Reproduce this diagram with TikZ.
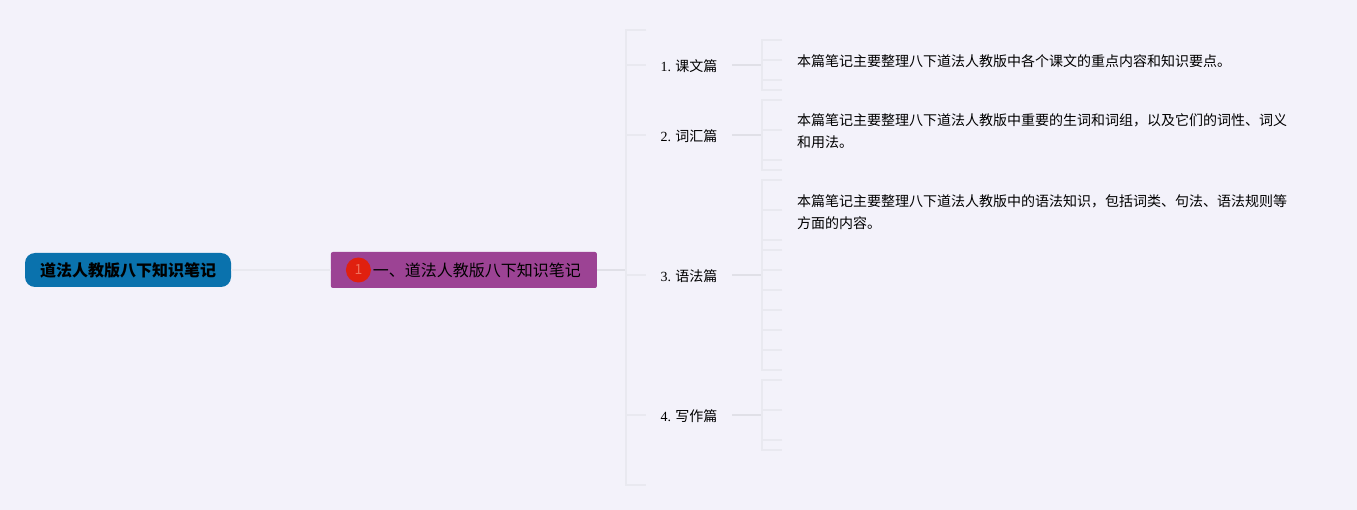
\documentclass[tikz,border=0pt]{standalone}
\usepackage{fontspec}
\setmainfont{Liberation Serif}
\newfontfamily\cjk{Noto Sans CJK SC}
\usetikzlibrary{positioning}
\definecolor{pagebg}{RGB}{243, 242, 250}
\definecolor{rootblue}{RGB}{10, 114, 173}
\definecolor{subpurple}{RGB}{156, 67, 148}
\definecolor{badgered}{RGB}{224, 32, 15}
\definecolor{badgetext}{RGB}{240, 112, 92}
\definecolor{twiggray}{RGB}{233, 233, 240}
\definecolor{stemgray}{RGB}{224, 224, 231}

\begin{document}
\begin{tikzpicture}[
    x=1pt, y=-1pt,
    rootbox/.style={rectangle, fill=rootblue, minimum width=206pt, minimum height=34pt, rounded corners=10pt, inner sep=0pt, font=\fontsize{16}{20}\selectfont\cjk\bfseries},
    subbox/.style={rectangle, fill=subpurple, minimum width=266pt, minimum height=36pt, rounded corners=2pt, inner sep=0pt, font=\fontsize{16}{20}\selectfont\cjk},
    badge/.style={circle, fill=badgered, minimum size=25pt, inner sep=0pt, text=badgetext, font=\fontsize{14}{16}\selectfont\cjk},
    part/.style={rectangle, minimum width=86pt, minimum height=24pt, inner sep=0pt, text height=13pt, text depth=0.4pt, font=\fontsize{14}{22}\selectfont\cjk},
    desc/.style={rectangle, anchor=north west, inner sep=0pt, align=left, font=\fontsize{14}{22}\selectfont\cjk},
    twig/.style={line width=2pt, twiggray},
    stem/.style={line width=2pt, stemgray},
]
\fill[pagebg] (0,0) rectangle (1357,510);
\useasboundingbox (0,0) rectangle (1357,510);

% Root and subject
\node[rootbox] (root) at (128,270) {道法人教版八下知识笔记};
\node[subbox, right=99.5pt of root] (subject) {\hspace*{26pt}一、道法人教版八下知识笔记};
\node[badge, right=15pt of subject.west] (num) {1};

% Parts
\node[part] (lesson) at (689,65) {\textrm{1.} 课文篇};
\node[part] (vocab) at (689,135) {\textrm{2.} 词汇篇};
\node[part] (grammar) at (689,275) {\textrm{3.} 语法篇};
\node[part] (writing) at (689,415) {\textrm{4.} 写作篇};

% Descriptions
\node[desc] (lessontext) at (797,54) {本篇笔记主要整理八下道法人教版中各个课文的重点内容和知识要点。};
\node[desc] (vocabtext) at (797,113) {本篇笔记主要整理八下道法人教版中重要的生词和词组，以及它们的词性、词义\\和用法。};
\node[desc] (grammartext) at (797,194) {本篇笔记主要整理八下道法人教版中的语法知识，包括词类、句法、语法规则等\\方面的内容。};

% Joints and free ends
\coordinate (mainjoint) at (626,270);
\coordinate (maintop) at (646,30);
\coordinate (mainend) at (646,485);
\coordinate (lessonjoint) at (762,65);
\coordinate (vocabjoint) at (762,135);
\coordinate (grammarjoint) at (762,275);
\coordinate (writingjoint) at (762,415);

\coordinate (l1) at (782,40);
\coordinate (l2) at (782,60);
\coordinate (l3) at (782,80);
\coordinate (l4) at (782,90);
\coordinate (v1) at (782,100);
\coordinate (v2) at (782,130);
\coordinate (v3) at (782,160);
\coordinate (v4) at (782,170);
\coordinate (g1) at (782,180);
\coordinate (g2) at (782,210);
\coordinate (g3) at (782,240);
\coordinate (g4) at (782,250);
\coordinate (g5) at (782,270);
\coordinate (g6) at (782,290);
\coordinate (g7) at (782,310);
\coordinate (g8) at (782,330);
\coordinate (g9) at (782,350);
\coordinate (g10) at (782,370);
\coordinate (w1) at (782,380);
\coordinate (w2) at (782,410);
\coordinate (w3) at (782,440);
\coordinate (w4) at (782,450);

% Main branches
\draw[twig] (root) -- (subject);
\draw[stem] (subject) -- (mainjoint);
\draw[twig] (maintop) -| (mainjoint) |- (mainend);
\draw[twig] (lesson.west) -- (lesson.west-|mainjoint);
\draw[twig] (vocab.west) -- (vocab.west-|mainjoint);
\draw[twig] (grammar.west) -- (grammar.west-|mainjoint);
\draw[twig] (writing.west) -- (writing.west-|mainjoint);

% Lesson
\draw[stem] (lesson) -- (lessonjoint);
\draw[twig] (l1) -| (lessonjoint) |- (l4);
\draw[twig] (l2) -- (l2-|lessonjoint);
\draw[twig] (l3) -- (l3-|lessonjoint);

% Vocabulary
\draw[stem] (vocab) -- (vocabjoint);
\draw[twig] (v1) -| (vocabjoint) |- (v4);
\draw[twig] (v2) -- (v2-|vocabjoint);
\draw[twig] (v3) -- (v3-|vocabjoint);

% Grammar
\draw[stem] (grammar) -- (grammarjoint);
\draw[twig] (g1) -| (grammarjoint) |- (g10);
\draw[twig] (g2) -- (g2-|grammarjoint);
\draw[twig] (g3) -- (g3-|grammarjoint);
\draw[twig] (g4) -- (g4-|grammarjoint);
\draw[twig] (g5) -- (g5-|grammarjoint);
\draw[twig] (g6) -- (g6-|grammarjoint);
\draw[twig] (g7) -- (g7-|grammarjoint);
\draw[twig] (g8) -- (g8-|grammarjoint);
\draw[twig] (g9) -- (g9-|grammarjoint);

% Writing
\draw[stem] (writing) -- (writingjoint);
\draw[twig] (w1) -| (writingjoint) |- (w4);
\draw[twig] (w2) -- (w2-|writingjoint);
\draw[twig] (w3) -- (w3-|writingjoint);
\end{tikzpicture}
\end{document}
